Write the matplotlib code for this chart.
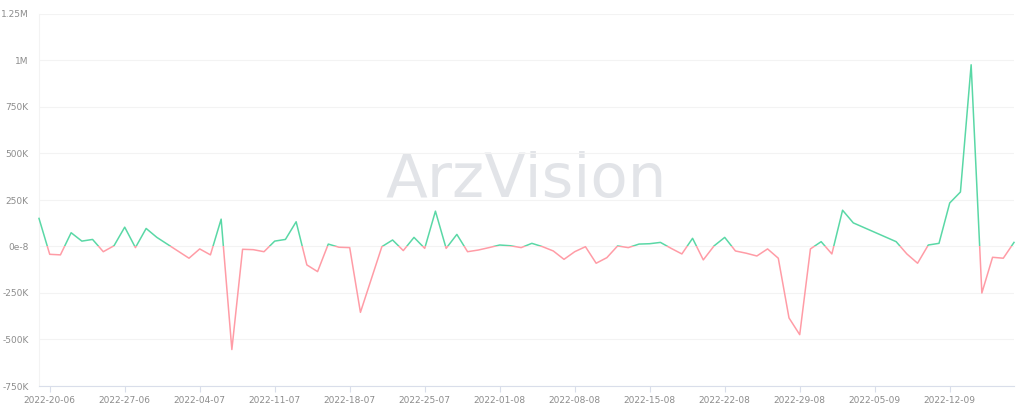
import matplotlib
matplotlib.use("Agg")
import matplotlib.pyplot as plt
import matplotlib.dates as mdates
from matplotlib.patches import Rectangle
import numpy as np
import pandas as pd

# daily net values (thousands), None = no data that day
START = "2022-06-19"
values_k = [151, -42, -45, 74, 29, 38, -28, 4, 104, -6,
            97, 49, None, None, -63, -13, -45, 147, -554, -15,
            -17, -28, 29, 38, 133, -99, -135, 13, -4, -6,
            -354, None, -1, 35, -22, 49, -10, 190, -10, 65,
            -28, -19, -6, 8, 4, -6, 17, -1, -24, -69,
            -28, -1, -90, -60, 3, -6, 13, 15, 22, -10,
            -40, 44, -72, 3, 49, -24, -36, -51, -13, -63,
            -384, -474, -13, 26, -40, 195, 127, None, None, None,
            26, -40, -90, 8, 17, 234, 293, 977, -250, -58,
            -63, 22]
ytick_vals = [-750e3, -500e3, -250e3, 0, 250e3, 500e3, 750e3, 1e6, 1.25e6]
ytick_labels = ["-750K", "-500K", "-250K", "0e-8", "250K", "500K", "750K", "1M", "1.25M"]
xtick_dates = pd.date_range("2022-06-20", "2022-09-12", freq="7D")

s = pd.Series(values_k, index=pd.date_range(START, periods=len(values_k), freq="D"), dtype=float)
s = s.dropna() * 1000

GREEN = "#5AD8A6"; RED = "#FF9CA6"; AXC = "#D9DEEA"; TXT = "#8C8C8C"

fig = plt.figure(figsize=(10.24, 4.15), dpi=100)
ax = fig.add_axes([39/1024, 1-386/415, (1014-39)/1024, (386-14)/415])

ax.set_ylim(-750e3, 1.25e6)
ax.set_xlim(s.index[0], s.index[-1])

# watermark
ax.text(0.5, 0.552, "ArzVision", transform=ax.transAxes, ha="center", va="center",
        fontsize=44, color="#E2E4E8", family="DejaVu Sans", zorder=0)

x0, x1 = mdates.date2num(s.index[0]) - 5, mdates.date2num(s.index[-1]) + 5
up, = ax.plot(s.index, s.values, color=GREEN, lw=1.1, zorder=3)
dn, = ax.plot(s.index, s.values, color=RED, lw=1.1, zorder=3)
up.set_clip_path(Rectangle((x0, 0), x1 - x0, 2e6, transform=ax.transData))
dn.set_clip_path(Rectangle((x0, -2e6), x1 - x0, 2e6, transform=ax.transData))

ax.set_yticks(ytick_vals); ax.set_yticklabels(ytick_labels)
ax.set_xticks(xtick_dates); ax.set_xticklabels([d.strftime("%Y-%d-%m") for d in xtick_dates])
ax.grid(axis="y", color="#F3F3F3", lw=0.8, zorder=0)
for sp in ["top", "right"]:
    ax.spines[sp].set_visible(False)
ax.spines["left"].set_color("#F3F3F3")
ax.spines["bottom"].set_color(AXC)
ax.tick_params(axis="y", length=0, pad=7.5, labelsize=6.5, labelcolor=TXT)
ax.tick_params(axis="x", length=4, color=AXC, pad=3, labelsize=6.5, labelcolor=TXT)

fig.savefig("out.png", dpi=100)
